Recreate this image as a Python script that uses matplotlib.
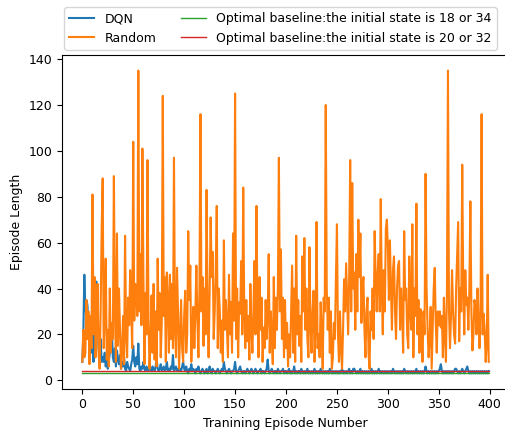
import numpy as np
import matplotlib
matplotlib.use("Agg")
import matplotlib.pyplot as plt

# episode lengths
random_len = [
    8, 22, 10, 12, 35, 18, 30, 7, 28, 14,
    81, 20, 45, 10, 24, 42, 12, 5, 30, 66,
    88, 14, 28, 53, 9, 22, 6, 40, 12, 25,
    18, 89, 30, 8, 64, 15, 40, 22, 5, 12,
    28, 7, 63, 20, 10, 36, 24, 48, 30, 14,
    104, 26, 42, 40, 28, 135, 30, 55, 24, 101,
    45, 7, 38, 20, 96, 26, 5, 18, 37, 12,
    42, 9, 30, 6, 53, 22, 38, 10, 25, 124,
    28, 45, 8, 47, 35, 12, 46, 18, 42, 14,
    97, 22, 10, 49, 30, 5, 20, 35, 14, 8,
    28, 39, 12, 20, 65, 35, 50, 8, 22, 32,
    14, 30, 50, 26, 10, 40, 116, 30, 45, 15,
    40, 20, 83, 32, 10, 38, 71, 45, 56, 18,
    30, 48, 76, 14, 40, 30, 12, 26, 8, 61,
    22, 35, 22, 10, 46, 20, 34, 12, 64, 26,
    125, 18, 40, 10, 34, 29, 52, 20, 84, 30,
    14, 35, 17, 28, 9, 42, 22, 12, 30, 52,
    20, 76, 30, 10, 45, 22, 36, 8, 23, 14,
    35, 18, 28, 55, 12, 30, 20, 7, 45, 14,
    36, 22, 40, 97, 30, 57, 18, 36, 10, 35,
    14, 25, 6, 20, 10, 30, 50, 12, 40, 8,
    63, 20, 35, 15, 28, 8, 54, 30, 62, 22,
    40, 18, 10, 58, 25, 12, 30, 39, 8, 22,
    69, 14, 20, 10, 34, 22, 5, 36, 30, 120,
    40, 22, 36, 12, 30, 5, 10, 25, 18, 45,
    68, 20, 8, 30, 14, 5, 22, 44, 30, 51,
    35, 20, 45, 96, 30, 86, 40, 47, 22, 55,
    30, 70, 45, 64, 25, 40, 45, 22, 10, 30,
    36, 12, 5, 30, 22, 40, 18, 65, 45, 30,
    47, 55, 30, 79, 40, 20, 48, 30, 66, 70,
    58, 35, 61, 40, 22, 48, 54, 30, 18, 40,
    50, 52, 22, 40, 30, 12, 65, 35, 40, 20,
    14, 54, 30, 22, 68, 10, 40, 28, 77, 20,
    35, 12, 31, 22, 8, 30, 20, 90, 40, 22,
    10, 18, 32, 5, 22, 40, 49, 25, 12, 30,
    24, 30, 23, 28, 10, 36, 20, 8, 40, 135,
    30, 14, 28, 48, 30, 20, 16, 40, 55, 69,
    17, 40, 30, 94, 40, 20, 48, 33, 36, 22,
    40, 78, 30, 13, 20, 35, 32, 20, 40, 28,
    14, 30, 116, 20, 29, 22, 8, 15, 46, 8,
]

dqn_len = [
    8, 20, 46, 30, 35, 33, 24, 18, 28, 12,
    30, 8, 20, 14, 43, 28, 14, 10, 18, 8,
    10, 8, 12, 6, 10, 5, 8, 12, 15, 21,
    10, 8, 14, 6, 13, 9, 7, 11, 5, 8,
    6, 10, 5, 4, 8, 6, 5, 4, 7, 9,
    15, 8, 6, 10, 7, 16, 5, 4, 6, 5,
    8, 5, 4, 6, 5, 4, 7, 5, 4, 6,
    5, 4, 6, 9, 5, 4, 5, 7, 4, 5,
    6, 4, 5, 8, 4, 5, 4, 6, 5, 11,
    4, 5, 6, 4, 5, 4, 5, 4, 6, 8,
    5, 4, 6, 4, 3, 5, 4, 7, 4, 5,
    4, 3, 5, 4, 6, 4, 3, 4, 5, 4,
    3, 4, 5, 3, 4, 6, 4, 3, 5, 4,
    4, 3, 4, 5, 4, 3, 4, 5, 4, 8,
    5, 4, 3, 4, 5, 4, 3, 4, 4, 5,
    8, 4, 3, 4, 5, 6, 4, 3, 4, 4,
    3, 4, 5, 4, 3, 4, 5, 4, 3, 4,
    5, 4, 3, 4, 4, 5, 3, 4, 4, 3,
    4, 5, 9, 4, 3, 4, 5, 4, 3, 4,
    4, 3, 5, 4, 3, 4, 4, 5, 3, 4,
    4, 3, 4, 5, 3, 4, 3, 4, 6, 3,
    4, 3, 4, 4, 3, 5, 4, 3, 4, 3,
    4, 5, 3, 4, 3, 4, 3, 4, 5, 3,
    4, 3, 4, 3, 5, 4, 3, 4, 3, 4,
    3, 4, 3, 5, 4, 3, 4, 3, 4, 3,
    4, 3, 4, 3, 4, 5, 3, 4, 3, 4,
    3, 4, 5, 3, 4, 3, 5, 5, 4, 3,
    4, 3, 4, 5, 3, 4, 3, 4, 3, 4,
    3, 4, 3, 4, 5, 3, 4, 3, 4, 3,
    4, 5, 3, 4, 3, 4, 3, 4, 3, 4,
    3, 4, 3, 4, 3, 5, 4, 3, 4, 3,
    4, 3, 4, 3, 4, 3, 5, 4, 3, 4,
    3, 4, 3, 4, 3, 4, 3, 4, 5, 3,
    4, 3, 4, 3, 4, 3, 4, 6, 4, 3,
    4, 3, 4, 3, 4, 3, 4, 3, 4, 3,
    4, 5, 7, 4, 3, 4, 3, 4, 3, 4,
    3, 4, 3, 4, 3, 4, 5, 5, 4, 3,
    4, 3, 4, 5, 4, 3, 4, 5, 6, 4,
    3, 4, 3, 4, 3, 4, 3, 4, 3, 4,
    3, 4, 3, 4, 3, 4, 3, 4, 3, 4,
]

optimal_18_34 = 3
optimal_20_32 = 4

episodes = np.arange(len(random_len))

plt.rcParams["font.size"] = 9
fig = plt.figure(figsize=(5.06, 4.3), dpi=100)
ax = fig.add_axes([0.1225, 0.0965, 0.8835, 0.7745])

ax.plot(episodes, dqn_len, color="#1f77b4", label="DQN")
ax.plot(episodes, random_len, color="#ff7f0e", label="Random")
ax.plot(episodes, [optimal_18_34] * len(episodes), color="#2ca02c", lw=1,
        label="Optimal baseline:the initial state is 18 or 34")
ax.plot(episodes, [optimal_20_32] * len(episodes), color="#d62728", lw=1,
        label="Optimal baseline:the initial state is 20 or 32")

ax.set_xlabel("Tranining Episode Number")
ax.set_ylabel("Episode Length")
ax.set_yticks(range(0, 141, 20))

ax.legend(loc="lower left", bbox_to_anchor=(0, 1.01), ncol=2,
          borderaxespad=0.2, columnspacing=2.0)

fig.savefig("out.png", dpi=100)
